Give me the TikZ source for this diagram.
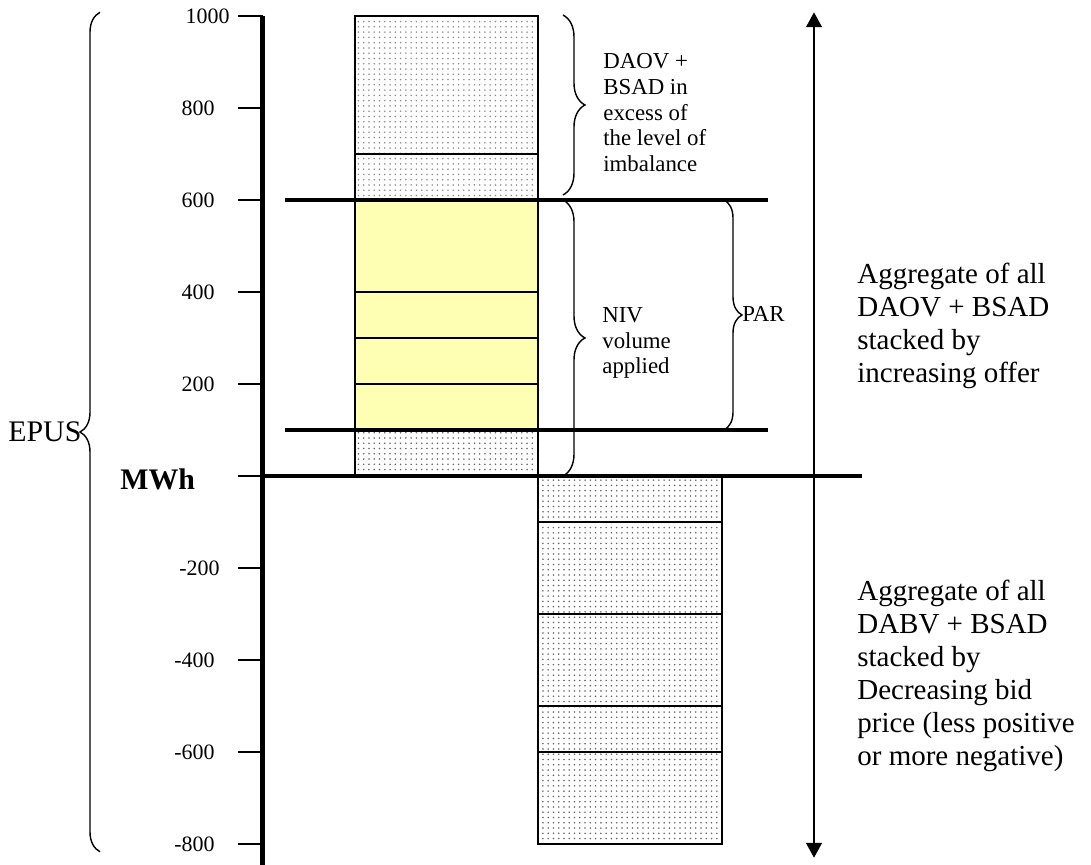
\documentclass[tikz,border=0pt]{standalone}
\usepackage{fontspec}
\setmainfont{Liberation Serif}
\usetikzlibrary{patterns,decorations.pathreplacing,arrows.meta}
\definecolor{amarillo}{RGB}{255,255,180}
\begin{document}
\begin{tikzpicture}[x=0.02cm,y=0.0092cm,
    barra/.style={draw,line width=0.8pt,pattern=dots,pattern color=black!60},
    linea/.style={line width=2.6pt},
    llave/.style={decorate,decoration={brace,amplitude=#1},line width=0.8pt},
    rotulo/.style={anchor=east,inner sep=0pt,font=\fontsize{12.5}{14}\selectfont},
    texto/.style={anchor=west,inner sep=0pt,align=left}]
    \useasboundingbox (0,-845.65) rectangle (1091,1034.8);
    % Barra de ofertas
    \draw[barra,pattern color=black!45] (355,600) rectangle (538,1000);
    \draw[line width=0.8pt] (355,700) -- (538,700);
    \draw[line width=0.8pt,fill=amarillo] (355,100) rectangle (538,600);
    \foreach \v in {200,300,400}
        \draw[line width=0.8pt] (355,\v) -- (538,\v);
    \draw[barra] (355,0) rectangle (538,100);
    % Barra de pujas
    \draw[barra] (538,0) rectangle (722,-800);
    \foreach \v in {-100,-300,-500,-600}
        \draw[line width=0.8pt] (538,\v) -- (722,\v);
    % Ejes
    \draw[line width=2.8pt] (262.5,1000) -- (262.5,-846);
    \draw[line width=2.8pt] (262.5,0) -- (862,0);
    \foreach \v in {1000,800,...,-800}
        \draw[line width=0.8pt] (238,\v) -- (262.5,\v);
    \foreach \v/\x in {1000/230,800/215,600/215,400/215,200/215,-200/220,-400/215,-600/215,-800/215}
        \node[rotulo] (r\v) at (\x,\v) {\v};
    \node[anchor=base west,inner sep=0pt,font=\fontsize{17}{20}\selectfont\bfseries] (mwh) at (120,-30) {MWh};
    % Lineas de NIV
    \draw[linea] (285,600) -- (768,600);
    \draw[linea] (285,100) -- (768,100);
    % Flecha doble
    \coordinate (arriba) at (814,1008);
    \coordinate (abajo) at (814,-830);
    \draw[line width=1.1pt,{Triangle[width=9pt,length=8.5pt]}-{Triangle[width=9pt,length=8.5pt]}] (arriba) -- (abajo);
    % Llaves
    \draw[llave=0.4cm] (100,-817) -- (100,1008);
    \draw[llave=0.44cm] (563,1002) -- (563,611);
    \draw[llave=0.44cm] (563,600) -- (563,0);
    \draw[llave=0.36cm] (724,600) -- (724,100);
    % Textos
    \node[anchor=base west,inner sep=0pt,font=\fontsize{17}{20}\selectfont] (epus) at (8,74) {EPUS};
    \node[texto,font=\fontsize{13}{14.7}\selectfont] (exceso) at (603,790) {DAOV +\\BSAD in\\excess of\\the level of\\imbalance};
    \node[texto,font=\fontsize{13}{14.7}\selectfont] (niv) at (602,289) {NIV\\volume\\applied};
    \node[anchor=base west,inner sep=0pt,font=\fontsize{13}{14.7}\selectfont] (par) at (742,335) {PAR};
    \node[texto,font=\fontsize{16.5}{18.8}\selectfont] (ofertas) at (857,326) {Aggregate of all\\DAOV + BSAD\\stacked by\\increasing offer};
    \node[texto,font=\fontsize{16.5}{18.8}\selectfont] (pujas) at (857,-435) {Aggregate of all\\DABV + BSAD\\stacked by\\Decreasing bid\\price (less positive\\or more negative)};
\end{tikzpicture}
\end{document}
